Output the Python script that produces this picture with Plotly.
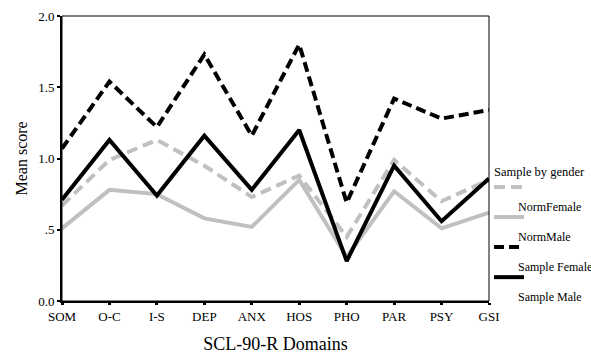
import plotly.graph_objects as go

domains = ["SOM", "O-C", "I-S", "DEP", "ANX", "HOS", "PHO", "PAR", "PSY", "GSI"]
norm_female = [0.67, 0.99, 1.13, 0.95, 0.73, 0.88, 0.45, 0.99, 0.70, 0.85]
norm_male = [0.51, 0.78, 0.75, 0.58, 0.52, 0.85, 0.31, 0.77, 0.51, 0.62]
sample_female = [1.07, 1.54, 1.22, 1.73, 1.16, 1.80, 0.69, 1.42, 1.28, 1.34]
sample_male = [0.71, 1.13, 0.74, 1.16, 0.78, 1.20, 0.28, 0.95, 0.56, 0.86]

legend_title = "Sample by gender"
series_names = ["NormFemale", "NormMale", "Sample Female", "Sample Male"]

y_tickvals = [0, 0.5, 1.0, 1.5, 2.0]
y_ticktext = ["0.0", ".5", "1.0", "1.5", "2.0"]

x_title = "SCL-90-R Domains"
y_title = "Mean score"

GRAY = "#c0c0c0"
FONT = "Liberation Serif, Times New Roman, serif"

fig = go.Figure()
series = [
    (norm_female, GRAY, "11px,6px"),
    (norm_male, GRAY, "solid"),
    (sample_female, "black", "10px,5px"),
    (sample_male, "black", "solid"),
]
for (vals, color, dash), name in zip(series, series_names):
    fig.add_trace(go.Scatter(
        x=list(range(len(domains))), y=vals, mode="lines",
        name=" ", legendgroup=name, hovertext=name,
        line=dict(color=color, width=4, dash=dash),
    ))

W, H = 591, 360
L, T, R, B = 62, 16, 102, 59
pw, ph = W - L - R, H - T - B

def px(x):
    return (x - L) / pw

def py(y):
    return (H - B - y) / ph

annotations = [dict(text=legend_title, x=px(492), y=py(172), xref="paper", yref="paper",
                    xanchor="left", yanchor="middle", showarrow=False,
                    font=dict(size=12.5, family=FONT))]
for i, name in enumerate(series_names):
    annotations.append(dict(text=name, x=px(516), y=py(207 + 30 * i), xref="paper", yref="paper",
                            xanchor="left", yanchor="middle", showarrow=False,
                            font=dict(size=12, family=FONT)))
annotations.append(dict(text=y_title, x=px(21), y=0.5, xref="paper", yref="paper",
                        xanchor="center", yanchor="middle", textangle=-90, showarrow=False,
                        font=dict(size=16, family=FONT)))

fig.update_layout(
    width=W, height=H,
    margin=dict(l=L, r=R, t=T, b=B, autoexpand=False),
    plot_bgcolor="white", paper_bgcolor="white",
    font=dict(family=FONT, size=12, color="black"),
    showlegend=True,
    legend=dict(
        x=1.0, xanchor="left", y=py(167), yanchor="top",
        font=dict(size=20.8, family=FONT),
        itemwidth=30, traceorder="normal", tracegroupgap=0,
        bgcolor="rgba(0,0,0,0)", borderwidth=0,
    ),
    annotations=annotations,
    xaxis=dict(
        range=[0, 9], tickmode="array", tickvals=list(range(len(domains))), ticktext=domains,
        showline=True, linecolor="black", linewidth=2, showgrid=False, zeroline=False,
        ticks="outside", ticklen=2, tickwidth=3, tickcolor="black", automargin=False,
        tickfont=dict(size=13, family=FONT),
        title=dict(text=x_title, font=dict(size=18, family=FONT)),
    ),
    yaxis=dict(
        range=[0, 2.0], tickmode="array", tickvals=y_tickvals, ticktext=y_ticktext,
        showline=True, linecolor="black", linewidth=2, showgrid=False, zeroline=False,
        ticks="outside", ticklen=3, tickwidth=2, tickcolor="black", automargin=False,
        tickfont=dict(size=13, family=FONT),
    ),
    shapes=[dict(type="rect", xref="paper", yref="paper", x0=0, y0=0, x1=1, y1=1,
                 line=dict(color="black", width=1), layer="above")],
)

fig.write_html("out.html", config={"displayModeBar": False},
               post_script="document.body.style.margin='0';document.body.style.overflow='hidden';")
